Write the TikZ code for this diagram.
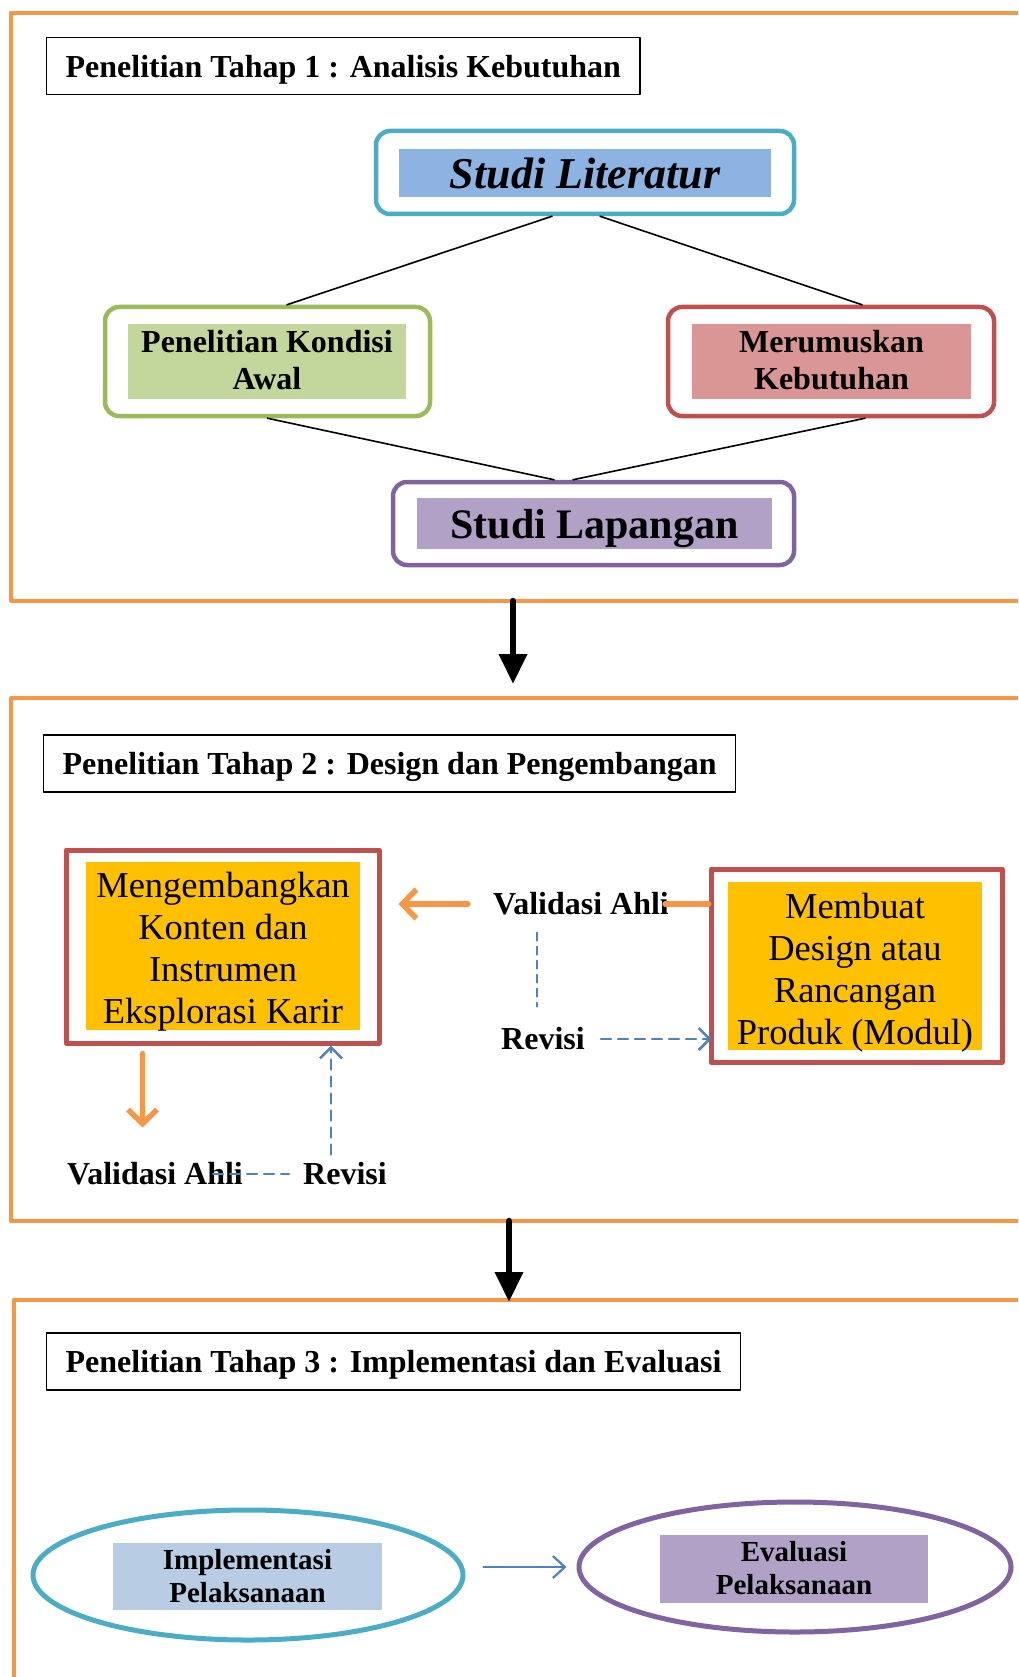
\documentclass[tikz,border=0pt]{standalone}
\usepackage{fontspec}
\setmainfont{Liberation Serif}
\usetikzlibrary{arrows.meta,shapes.geometric}

\definecolor{oranye}{HTML}{F79646}
\definecolor{tosca}{HTML}{4BACC6}
\definecolor{biruisi}{HTML}{8DB3E2}
\definecolor{hijau}{HTML}{9BBB59}
\definecolor{hijauisi}{HTML}{C3D69B}
\definecolor{merah}{HTML}{C0504D}
\definecolor{merahisi}{HTML}{D99694}
\definecolor{ungu}{HTML}{8064A2}
\definecolor{unguisi}{HTML}{B2A1C7}
\definecolor{kuning}{HTML}{FFC000}
\definecolor{birupucat}{HTML}{B8CCE4}
\definecolor{biru}{HTML}{4F81BD}

% teks beberapa baris, diturunkan sedikit
\newcommand{\baris}[2]{\raisebox{-#1}[\height][\depth]{\begin{tabular}{@{}c@{}}#2\end{tabular}}}

\begin{document}
\begin{tikzpicture}[x=1pt, y=-1pt, line cap=round, line join=round,
	bingkai/.style={draw=oranye, line width=4},
	judul/.style={draw, line width=1.2, anchor=west, inner xsep=19, minimum height=57, text depth=0pt,
		font=\bfseries\fontsize{32}{38}\selectfont},
	kotak/.style={rounded corners=14, line width=4.5, fill=white},
	kotakmerah/.style={draw=merah, line width=5, fill=white},
	isi/.style={inner sep=0, font=\bfseries\fontsize{32}{37}\selectfont},
	isibiasa/.style={inner sep=0, fill=kuning, font=\fontsize{36.5}{42}\selectfont},
	label/.style={inner sep=0, font=\bfseries\fontsize{32}{37}\selectfont},
	garis/.style={line width=1.6},
	panah/.style={line width=6.5, -{Triangle[length=30pt,width=27pt]}},
	panahoranye/.style={draw=oranye, line width=5.5, -{Straight Barb[length=14pt,width=29pt]}},
	putus/.style={draw=biru, line width=2.5, dash pattern=on 10pt off 7pt},
	panahputus/.style={putus, -{Straight Barb[length=11pt,width=22pt]}}]
	
	\clip (0,0) rectangle (1018,1677);
	
	% Bingkai tahap
	\draw[bingkai] (10.7,12.8) rectangle (1040,601);
	\draw[bingkai] (11,698) rectangle (1040,1221);
	\draw[bingkai] (14,1300) rectangle (1040,1720);
	
	% Tahap 1
	\node[judul] (judul1) at (46,66) {Penelitian Tahap 1 : Analisis Kebutuhan};
	
	\node[kotak, draw=tosca, minimum width=418, minimum height=83] (lit) at (585,172.5) {};
	\node[isi, fill=biruisi, minimum width=372, minimum height=48,
		font=\bfseries\itshape\fontsize{44}{50}\selectfont] (litisi) at (585,173) {Studi Literatur};
	
	\node[kotak, draw=hijau, minimum width=325, minimum height=109] (kondisi) at (267.5,361.5) {};
	\node[isi, fill=hijauisi, minimum width=278, minimum height=75] (kondisiisi) at (267,361.5)
		{\baris{2pt}{Penelitian Kondisi\\Awal}};
	
	\node[kotak, draw=merah, minimum width=326, minimum height=109] (rumus) at (831,361.5) {};
	\node[isi, fill=merahisi, minimum width=279, minimum height=75] (rumusisi) at (831.5,361.5)
		{\baris{2pt}{Merumuskan\\Kebutuhan}};
	
	\node[kotak, draw=ungu, minimum width=401, minimum height=83] (lap) at (593.5,523.5) {};
	\node[isi, fill=unguisi, minimum width=355, minimum height=51, text depth=0pt,
		font=\bfseries\fontsize{42}{48}\selectfont] (lapisi) at (594.5,523.5) {Studi Lapangan};
	
	\draw[garis] ([xshift=-33]lit.south) -- ([xshift=19.5]kondisi.north);
	\draw[garis] ([xshift=15]lit.south) -- ([xshift=31]rumus.north);
	\draw[garis] (kondisi.south) -- ([xshift=-39.5]lap.north);
	\draw[garis] ([xshift=34]rumus.south) -- ([xshift=-20.5]lap.north);
	
	% Panah antar tahap
	\coordinate (a1) at (513,601);
	\coordinate (a2) at (513,684);
	\coordinate (b1) at (509,1221);
	\coordinate (b2) at (509,1302);
	\draw[panah] (a1) -- (a2);
	\draw[panah] (b1) -- (b2);
	
	% Tahap 2
	\node[judul] (judul2) at (43,763.5) {Penelitian Tahap 2 : Design dan Pengembangan};
	
	\node[kotakmerah, minimum width=313, minimum height=193] (kembang) at (222.5,946.5) {};
	\node[isibiasa, minimum width=274, minimum height=168] (kembangisi) at (223,946)
		{\baris{6pt}{Mengembangkan\\Konten dan\\Instrumen\\Eksplorasi Karir}};
	
	\node[kotakmerah, minimum width=291, minimum height=193] (buat) at (856.5,965.5) {};
	\node[isibiasa, minimum width=254, minimum height=166] (buatisi) at (855,966)
		{\baris{7pt}{Membuat\\Design atau\\Rancangan\\Produk (Modul)}};
	
	\node[label] (valA) at (581,904) {Validasi Ahli};
	\node[label] (revA) at (543,1039) {Revisi};
	\node[label] (valB) at (155,1174) {Validasi Ahli};
	\node[label] (revB) at (345,1174) {Revisi};
	
	\draw[draw=oranye, line width=5.5] (buat.west |- valA.east) -- ([xshift=-4]valA.east);
	\draw[panahoranye, shorten <=25, shorten >=17] (valA.west) -- (valA.west -| kembang.east);
	\draw[panahoranye, shorten <=8, shorten >=35] ([xshift=-80]kembang.south)
		-- ([xshift=-80]kembang.south |- valB.north);
	
	\draw[putus, line width=2, dash pattern=on 8pt off 6pt, shorten <=17, shorten >=21]
		([xshift=-44]valA.south) -- ([xshift=-44]valA.south |- revA.north);
	\draw[panahputus, shorten <=16] (revA.east) -- ([xshift=3]revA.east -| buat.west);
	\draw[putus] ([xshift=-30]valB.east) -- ([xshift=-14]revB.west);
	\draw[panahputus, shorten <=8] ([xshift=-14]revB.north) -- ([xshift=-14]revB.north |- kembang.south);
	
	% Tahap 3
	\node[judul] (judul3) at (46,1361.5) {Penelitian Tahap 3 : Implementasi dan Evaluasi};
	
	\node[ellipse, draw=tosca, line width=5, minimum width=430, minimum height=130] (impl) at (248,1575) {};
	\node[isi, fill=birupucat, minimum width=269, minimum height=67,
		font=\bfseries\fontsize{29}{33}\selectfont] (implisi) at (247.5,1576.5)
		{\baris{3pt}{Implementasi\\Pelaksanaan}};
	
	\node[ellipse, draw=ungu, line width=5, minimum width=432, minimum height=130] (eval) at (795,1567) {};
	\node[isi, fill=unguisi, minimum width=268, minimum height=68,
		font=\bfseries\fontsize{29}{33}\selectfont] (evalisi) at (794,1569)
		{\baris{2pt}{Evaluasi\\Pelaksanaan}};
	
	\draw[draw=biru, line width=2.2, -{Straight Barb[length=12pt,width=22pt]}, shorten <=18, shorten >=10]
		(impl.east |- eval.west) -- (eval.west);
	
\end{tikzpicture}
\end{document}
